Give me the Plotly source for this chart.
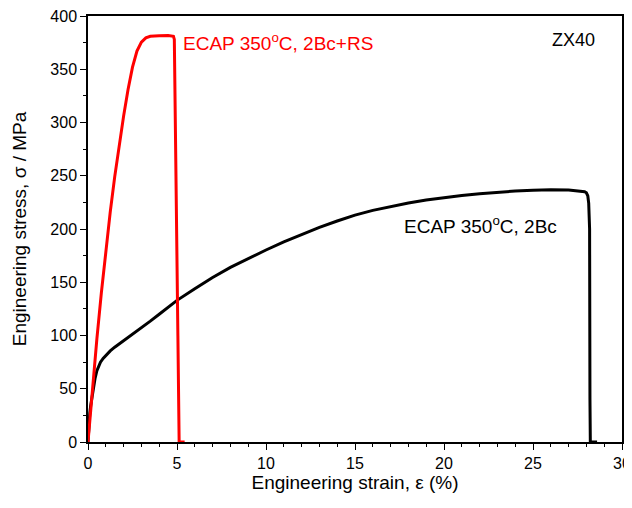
import plotly.graph_objects as go

# ECAP 350°C, 2Bc (black)
strain_2bc = [0, 0.03, 0.06, 0.1, 0.15, 0.2, 0.3, 0.4, 0.5, 0.6, 0.7, 0.85, 1.0, 1.25,
              1.5, 2.0, 2.5, 3.0, 3.5, 4.0, 4.5, 5.0, 6.0, 7.0, 8.0, 9.0, 10.0, 11.0,
              12.0, 13.0, 14.0, 15.0, 16.0, 17.0, 18.0, 19.0, 20.0, 21.0, 22.0, 23.0,
              24.0, 25.0, 26.0, 27.0, 27.6, 27.9, 28.0, 28.08, 28.13, 28.18, 28.2,
              28.22, 28.6]
stress_2bc = [0, 10, 19, 27, 34, 40, 51, 60, 67, 71.5, 75, 78.5, 81.5, 85.5,
              89, 95, 101, 107, 113.5, 120, 126.5, 133, 144, 154.5, 164, 172.3, 180.3, 188,
              195, 201.5, 207.5, 213, 217.5, 221.3, 224.5, 227.2, 229.5, 231.5, 233.2, 234.6,
              235.6, 236.4, 236.9, 236.6, 236, 235, 234, 231, 224, 200, 40,
              0, 0]

# ECAP 350°C, 2Bc+RS (red)
strain_rs = [0, 0.25, 0.5, 0.75, 1.0, 1.25, 1.5, 1.75, 2.0, 2.25, 2.5, 2.75, 3.0, 3.25,
             3.5, 4.0, 4.5, 4.8, 4.85, 5.05, 5.12, 5.43]
stress_rs = [0, 50, 97, 140, 180, 216, 249, 279, 306, 331, 352, 367, 375.5, 379.5,
             381, 381.5, 381.7, 381, 378, 100, 0, 0]

label_rs = "ECAP 350<sup>o</sup>C, 2Bc+RS"
label_2bc = "ECAP 350<sup>o</sup>C, 2Bc"
label_alloy = "ZX40"

FONT = "Liberation Sans, Arial, sans-serif"

fig = go.Figure()
fig.add_trace(go.Scatter(x=strain_2bc, y=stress_2bc, mode="lines",
                         line=dict(color="black", width=3), showlegend=False))
fig.add_trace(go.Scatter(x=strain_rs, y=stress_rs, mode="lines",
                         line=dict(color="#ff0000", width=3), showlegend=False))

axis_common = dict(showgrid=False, zeroline=False, showline=True,
                   linecolor="black", linewidth=1.5, tickcolor="black",
                   tickwidth=1.2)

# page body has an 8px default margin; margins compensate for that offset
fig.update_layout(
    width=632, height=508,
    margin=dict(l=80, r=18, t=8, b=74),
    paper_bgcolor="white", plot_bgcolor="white",
    font=dict(family=FONT, color="black"),
    xaxis=dict(range=[0, 30], dtick=5, ticks="outside", ticklen=6,
               minor=dict(dtick=1, ticks="outside", ticklen=3.5, tickcolor="black"),
               tickfont=dict(size=16), automargin=False, ticklabeloverflow="allow",
               title=dict(text="Engineering strain, ε (%)", font=dict(size=19), standoff=5),
               mirror=True, **axis_common),
    yaxis=dict(range=[0, 400], dtick=50, ticks="outside", ticklen=6,
               minor=dict(dtick=25, ticks="outside", ticklen=3.5, tickcolor="black"),
               tickfont=dict(size=16), automargin=False, ticklabeloverflow="allow",
               title=dict(text="Engineering stress, σ / MPa", font=dict(size=19), standoff=19),
               mirror=True, **axis_common),
    xaxis2=dict(range=[0, 30], overlaying="x", side="top", dtick=5, ticks="inside",
                ticklen=5, showticklabels=False, automargin=False,
                minor=dict(dtick=1, ticks="inside", ticklen=3, tickcolor="black"),
                **axis_common),
    yaxis2=dict(range=[0, 400], overlaying="y", side="right", dtick=50, ticks="outside",
                ticklen=6, showticklabels=False, automargin=False,
                minor=dict(dtick=25, ticks="outside", ticklen=3.5, tickcolor="black"),
                **axis_common),
    annotations=[
        dict(x=5.25, y=375.5, xref="x", yref="y", text=label_rs, showarrow=False,
             xanchor="left", yanchor="middle", font=dict(size=19, color="#ff0000")),
        dict(x=17.65, y=203.6, xref="x", yref="y", text=label_2bc, showarrow=False,
             xanchor="left", yanchor="middle", font=dict(size=19, color="black")),
        dict(x=27.25, y=377.6, xref="x", yref="y", text=label_alloy, showarrow=False,
             xanchor="center", yanchor="middle", font=dict(size=18, color="black")),
    ],
)

fig.write_html("out.html")
